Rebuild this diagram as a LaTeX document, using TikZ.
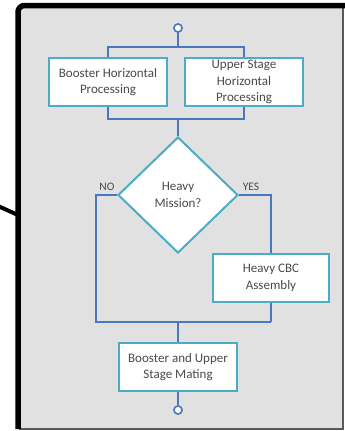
\documentclass[tikz,border=0pt]{standalone}
\usepackage{fontspec}
\setmainfont{Carlito}
\usetikzlibrary{shapes.geometric}
\definecolor{panel}{HTML}{E1E1E1}
\definecolor{boxedge}{HTML}{4BACC6}
\definecolor{wirecol}{HTML}{4A78BE}
\definecolor{txt}{HTML}{4A4A4A}
\begin{document}
\begin{tikzpicture}[x=1pt,y=-1pt,
  stepbox/.style={draw=boxedge, line width=2pt, fill=white, text=txt,
    align=center, font=\fontsize{13}{16.5}\selectfont, inner sep=1pt,
    minimum width=118pt, minimum height=48pt},
  decbox/.style={diamond, draw=boxedge, line width=2pt, fill=white, text=txt,
    align=center, font=\fontsize{13}{16.5}\selectfont, inner sep=0pt,
    minimum width=120pt, minimum height=116pt},
  wire/.style={draw=wirecol, line width=2pt},
  term/.style={circle, draw=wirecol, line width=1.5pt, fill=white,
    minimum size=8pt, inner sep=0pt},
  tag/.style={text=txt, font=\fontsize{11.5}{13}\selectfont, inner sep=0pt}
]
\useasboundingbox (0,0) rectangle (345,431);

% panel with its dark frame
\fill[panel] (20,7) rectangle (343,429);
\draw[black!65, line width=1.5pt] (20,7) rectangle (343,429);
\draw[black, line width=5.5pt, line join=round]
  (18,429) -- (18,12) arc[start angle=180, end angle=270, radius=6.5] -- (345,5.5);
\draw[black, line width=4pt] (-2,206) .. controls (8,210) .. (18,215);

% flow nodes
\node[term] (start) at (178,28) {};
\node[stepbox] (boost) at (108,82) {Booster Horizontal\\Processing};
\node[stepbox] (upper) at (244,82) {Upper Stage\\Horizontal\\Processing};
\node[decbox] (heavy) at (178,195) {Heavy\\Mission?};
\node[stepbox, minimum width=116pt] (cbc) at (271,278) {Heavy CBC\\Assembly};
\node[stepbox] (mate) at (178,367) {Booster and Upper\\Stage Mating};
\node[term] (finish) at (178,410) {};

\coordinate (split) at (178,47);
\coordinate (join) at (178,119);
\coordinate (mergeL) at (96,322);
\coordinate (mergeR) at (271,322);
\coordinate (merge) at (178,322);

% connectors
\draw[wire] (start.south) -- (split);
\draw[wire] (boost.north) -- (boost.north |- split) -- (upper.north |- split) -- (upper.north);
\draw[wire] (boost.south) -- (boost.south |- join) -- (upper.south |- join) -- (upper.south);
\draw[wire] (join) -- (heavy.north);
\draw[wire] (heavy.west) -| (mergeL) -- (mergeR);
\draw[wire] (heavy.east) -| (cbc.north);
\draw[wire] (cbc.south) -- (mergeR);
\draw[wire] (merge) -- (mate.north);
\draw[wire] (mate.south) -- (finish.north);

% redraw the terminals over the wire ends
\node[term] at (start) {};
\node[term] at (finish) {};

\node[tag] (no) at (107,187) {NO};
\node[tag] (yes) at (251,187) {YES};
\end{tikzpicture}
\end{document}
